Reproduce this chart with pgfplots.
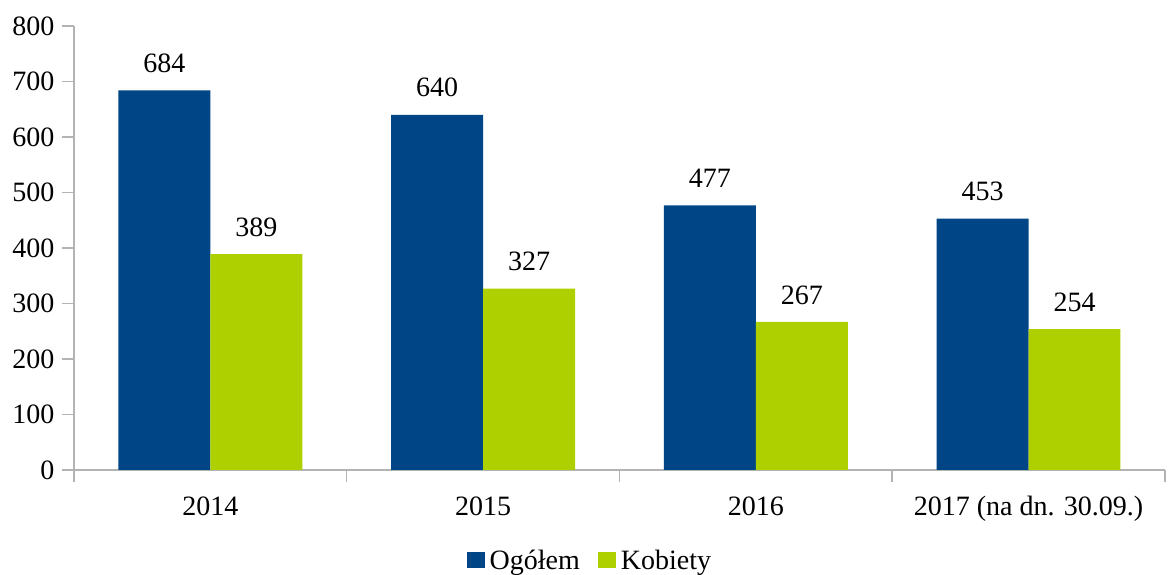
\documentclass[border=0pt]{standalone}
\usepackage{fontspec}
\setmainfont{Liberation Serif}
\usepackage{pgfplots}
\pgfplotsset{compat=1.18}
\definecolor{cblue}{HTML}{004586}
\definecolor{cgreen}{HTML}{AECF00}
\definecolor{agray}{HTML}{B3B3B3}
\newcommand{\cf}{\fontsize{28}{34}\selectfont}
\begin{document}
\begin{tikzpicture}
\begin{axis}[
  at={(0,0)}, anchor=south west,
  scale only axis, width=1091pt, height=444pt,
  xmin=-0.5, xmax=3.5, ymin=0, ymax=800,
  ybar=0pt, bar width=0.337,
  axis x line*=bottom, axis y line*=left,
  axis line style={agray, line width=1.5pt},
  xtick={0,1,2,3},
  xticklabels={2014,2015,2016,{2017 (na dn. 30.09.)}},
  major x tick style={draw=none},
  minor xtick={-0.5,0.5,1.5,2.5,3.5},
  minor tick length=12pt,
  major tick length=12pt,
  ytick={0,100,...,800},
  tick align=outside,
  tick style={agray, line width=1.5pt},
  /pgf/number format/assume math mode=true,
  tick label style={font=\cf, text=black},
  xticklabel style={yshift=-11pt},
  yticklabel style={xshift=-4pt},
  nodes near coords,
  nodes near coords style={font=\cf, text=black, yshift=14pt},
  legend style={draw=none, at={(0.357,-0.203)}, anchor=west, font=\cf,
    legend columns=2,
    /tikz/every odd column/.append style={column sep=3pt},
    /tikz/every even column/.append style={column sep=16pt}},
  legend image code/.code={\fill[#1] (0pt,-8pt) rectangle (18pt,8pt);},
]
\addplot[fill=cblue, draw=none] coordinates {(0,684) (1,640) (2,477) (3,453)};
\addplot[fill=cgreen, draw=none] coordinates {(0,389) (1,327) (2,267) (3,254)};
\legend{Ogółem, Kobiety}
\end{axis}
\path[use as bounding box] (-74pt,-104pt) rectangle (1097pt,470pt);
\end{tikzpicture}
\end{document}
